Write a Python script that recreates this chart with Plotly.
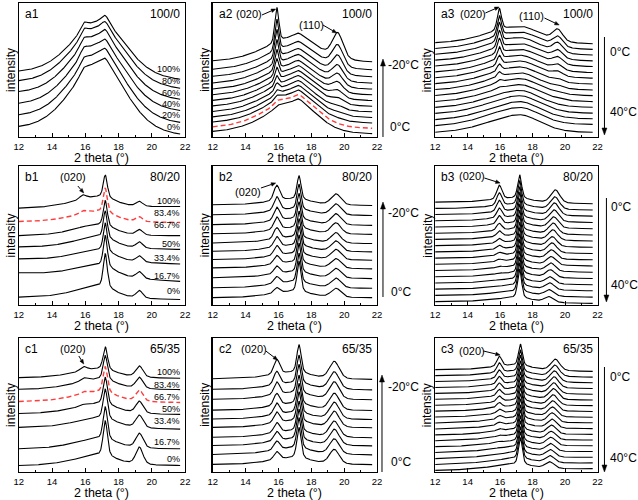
import numpy as np
import plotly.graph_objects as go

# ---------------- data (each list: bottom curve -> top curve) ----------------
# panel a1 (100/0, stretched)
a1_left = [7.9, 16.6, 25.2, 33.9, 42.1, 49.3]
a1_right = [2.2, 10.9, 19.8, 28.2, 36.4, 43.1]
a1_amorph = [54, 52, 50, 48, 45.5, 42.5]
a1_p159 = [4, 4.5, 5, 5, 5.5, 5.5]
a1_p172 = [4, 4.5, 4.5, 5, 5, 5.5]
a1_labels = ["0%", "20%", "40%", "60%", "80%", "100%"]

# panel a2 (100/0, cooling 0 -> -20 C)
a2_left = [4.2, 7.6, 11.2, 15.0, 19.0, 23.2, 27.3, 31.5, 35.8, 40.3, 45.3, 50.6, 56.9]
a2_right = [2.5, 6.5, 10.5, 14.6, 18.8, 23.0, 27.2, 31.5, 35.8, 40.2, 45.0, 50.2, 56.2]
a2_amorph = [24, 23.5, 23, 22.5, 22, 21.5, 21, 20.5, 20, 20, 19.5, 19.5, 19.5]
a2_p020 = [0.5, 1, 2, 3, 5, 7, 9.5, 12, 15, 18, 21, 23.5, 26]
a2_p110 = [0, 0, 0.5, 1, 2, 3.5, 5, 7, 9, 11, 13.5, 16, 19]
a2_p172 = [2.5, 2.5, 2.5, 2.5, 2.5, 2.5, 2.5, 2.5, 2.5, 2.5, 2.5, 2.5, 2.5]
a2_p160 = [2, 2, 1.5, 1, 0.5, 0, 0, 0, 0, 0, 0, 0, 0]

# panel a3 (100/0, heating 0 -> 40 C)
a3_left = [3.5, 8.5, 13.0, 17.6, 22.1, 26.5, 31.0, 35.4, 39.8, 44.2, 48.6, 53.0, 57.4, 61.8, 66.1, 70.4]
a3_right = [3.5, 9.4, 13.6, 17.8, 22.2, 26.4, 30.9, 35.1, 39.5, 43.9, 48.1, 52.6, 56.8, 61.2, 65.4, 69.6]
a3_amorph = [14, 14, 14, 14, 13.5, 13.5, 13.5, 13.5, 13.5, 13.5, 13.5, 13.5, 13.5, 13.5, 13.5, 13.5]
a3_p020 = [0, 0, 0, 0, 0.5, 1, 2, 3.5, 5, 7, 9, 11, 12.5, 14, 15, 16]
a3_p110 = [0, 0, 0, 0, 0, 0.5, 1, 1.5, 2, 3, 4, 5, 6, 7, 7.5, 8.5]

# panel b1 (80/20, stretched)
b1_left = [5.7, 23.2, 33.2, 41.8, 49.9, 60.1, 69.7]
b1_right = [4.0, 17.0, 29.5, 40.0, 49.9, 59.4, 70.9]
b1_amorph = [9, 9, 8.5, 8.5, 8, 8, 8]
b1_p172 = [24, 22, 20, 19, 18, 17, 16]
b1_p193 = [5.5, 5, 4.5, 4.5, 4, 3.5, 3.5]
b1_p020 = [0, 0, 0, 0, 0.5, 2, 3]
b1_labels = ["0%", "16.7%", "33.4%", "50%", "66.7%", "83.4%", "100%"]

# panel b2 (80/20, cooling)
b2_left = [5.3, 12.4, 19.6, 26.7, 32.7, 38.7, 44.6, 51.3, 57.8, 64.9, 72.1]
b2_right = [5.3, 12.0, 19.0, 26.0, 32.2, 38.2, 44.2, 50.8, 57.3, 64.4, 71.6]
b2_amorph = [4.5, 4.5, 4.5, 4.5, 4.5, 4.5, 4.5, 4.5, 4.5, 4.5, 4.5]
b2_p020 = [4, 5, 5.5, 6, 7, 7.5, 8, 9, 9.5, 10, 11]
b2_p172 = [22, 21, 21, 20, 20, 19.5, 19, 19, 18.5, 18, 17]
b2_p110 = [6.5, 7, 7, 7, 7.5, 7.5, 7.5, 8, 8, 8, 8]

# panel b3 (80/20, heating)
b3_left = [2.4, 6.9, 11.4, 15.8, 20.3, 24.8, 29.3, 33.7, 38.2, 42.7, 47.2, 51.6, 56.1, 60.6, 65.1, 69.5, 74.0]
b3_right = [1.2, 5.7, 10.2, 14.6, 19.1, 23.6, 28.1, 32.5, 37.0, 41.5, 46.0, 50.4, 54.9, 59.4, 63.9, 68.3, 72.8]
b3_amorph = [3.5] * 17
b3_p020 = [0, 0, 0, 0.3, 0.6, 1, 1.5, 2, 2.5, 3, 4, 5, 6, 7, 8, 9, 10]
b3_p172 = [21, 21, 20.5, 20.5, 20, 20, 19.5, 19.5, 19, 19, 18.5, 18.5, 18, 18, 17.5, 17.5, 17]
b3_pos110 = [19.0, 19.02, 19.05, 19.07, 19.1, 19.12, 19.15, 19.17, 19.2, 19.22, 19.25, 19.27, 19.3, 19.32, 19.35, 19.37, 19.4]
b3_p110 = [4, 4.5, 5, 5, 5.5, 6, 6, 6.5, 7, 7, 7.5, 8, 8, 8.5, 9, 9, 9.5]

# panel c1 (65/35, stretched)
c1_left = [4.9, 17.3, 33.3, 43.7, 52.6, 61.7, 70.4]
c1_right = [4.9, 17.3, 32.0, 43.0, 51.9, 61.5, 70.0]
c1_amorph = [8, 8, 8, 8, 8, 8, 7]
c1_p172 = [26, 24, 22, 20, 19, 18, 17]
c1_p192 = [13, 11, 9.5, 9, 8.5, 8.5, 8.5]
c1_p020 = [0, 0, 0.5, 1, 1.5, 2.5, 3]
c1_labels = ["0%", "16.7%", "33.4%", "50%", "66.7%", "83.4%", "100%"]

# panel c2 (65/35, cooling)
c2_left = [5.7, 13.1, 19.8, 25.9, 33.3, 39.5, 46.2, 54.3, 61.7, 69.6]
c2_right = [5.5, 12.8, 19.5, 25.6, 33.0, 39.2, 45.9, 53.9, 61.3, 69.1]
c2_amorph = [5, 5, 5, 5, 5, 5, 5, 5, 5, 5]
c2_p020 = [6, 6.5, 7, 7.5, 8, 8.5, 9, 9.5, 10, 11]
c2_p172 = [23, 23, 22.5, 22.5, 22, 22, 21.5, 21.5, 21, 21]
c2_p110 = [11, 11.5, 12, 12, 12, 12.5, 12.5, 13, 13, 13]

# panel c3 (65/35, heating)
c3_left = [1.2, 5.6, 10.0, 14.5, 18.9, 23.3, 27.7, 32.1, 36.6, 41.0, 45.4, 49.8, 54.3, 58.7, 63.1, 67.5, 71.9, 76.4]
c3_right = [2.5, 6.8, 11.0, 15.3, 19.6, 23.9, 28.1, 32.4, 36.7, 40.9, 45.2, 49.5, 53.7, 58.0, 62.3, 66.6, 70.8, 75.1]
c3_amorph = [4] * 18
c3_p020 = [0, 0, 0, 0.3, 0.6, 1, 1.5, 2, 2.5, 3, 3.5, 4, 4.5, 5, 5.5, 6, 7, 7.5]
c3_p172 = [20, 20, 19.5, 19.5, 19, 19, 18.5, 18.5, 18, 18, 17.5, 17.5, 17, 17, 16.5, 16.5, 16, 16]
c3_pos110 = [19.05, 19.07, 19.09, 19.11, 19.13, 19.15, 19.17, 19.19, 19.21, 19.23, 19.25, 19.27, 19.29, 19.31, 19.33, 19.35, 19.37, 19.4]
c3_p110 = [5, 5.2, 5.5, 5.7, 6, 6.2, 6.5, 6.7, 7, 7.2, 7.5, 7.7, 8, 8, 8.2, 8.3, 8.4, 8.5]

# ---------------- model of each diffraction trace ----------------
X = np.linspace(12.0, 21.7, 500)


def pv(x, c, wl, wr, eta):
    d = np.asarray(x, dtype=float) - c
    w = np.where(d < 0, wl, wr)
    g = np.exp(-0.5 * (d / w) ** 2)
    lo = 1.0 / (1.0 + (d / (1.1774 * w)) ** 2)
    return (1 - eta) * g + eta * lo


def trace_y(i, left, right, comps):
    f = np.zeros_like(X)
    f0 = 0.0
    f1 = 0.0
    for amps, c, wl, wr, eta in comps:
        a = amps[i]
        cc = c[i] if isinstance(c, list) else c
        f += a * pv(X, cc, wl, wr, eta)
        f0 += a * float(pv(12.0, cc, wl, wr, eta))
        f1 += a * float(pv(21.7, cc, wl, wr, eta))
    t = (X - 12.0) / 9.7
    return left[i] + (right[i] - left[i]) * t + f - (f0 + (f1 - f0) * t)


panels = [
    dict(left=a1_left, right=a1_right, red=None,
         comps=[(a1_amorph, 16.9, 1.75, 1.55, 0.35), (a1_p159, 15.9, 0.22, 0.22, 0.3), (a1_p172, 17.2, 0.2, 0.2, 0.3)]),
    dict(left=a2_left, right=a2_right, red=1,
         comps=[(a2_amorph, 17.15, 1.9, 1.25, 0.4), (a2_p020, 15.9, 0.12, 0.12, 0.3), (a2_p110, 19.6, 0.33, 0.33, 0.3),
                (a2_p172, 17.2, 0.25, 0.25, 0.3), (a2_p160, 16.0, 0.3, 0.3, 0.3)]),
    dict(left=a3_left, right=a3_right, red=None,
         comps=[(a3_amorph, 17.2, 2.0, 1.3, 0.4), (a3_p020, 15.95, 0.13, 0.13, 0.3), (a3_p110, 19.55, 0.3, 0.3, 0.3)]),
    dict(left=b1_left, right=b1_right, red=5,
         comps=[(b1_amorph, 16.9, 1.6, 0.9, 0.4), (b1_p172, 17.2, 0.12, 0.12, 0.4), (b1_p193, 19.25, 0.2, 0.2, 0.4),
                (b1_p020, 15.85, 0.2, 0.2, 0.3)]),
    dict(left=b2_left, right=b2_right, red=None,
         comps=[(b2_amorph, 17.0, 1.5, 1.0, 0.4), (b2_p020, 15.9, 0.18, 0.18, 0.3), (b2_p172, 17.25, 0.12, 0.12, 0.4),
                (b2_p110, 19.5, 0.3, 0.3, 0.3)]),
    dict(left=b3_left, right=b3_right, red=None,
         comps=[(b3_amorph, 17.0, 1.6, 1.0, 0.4), (b3_p020, 15.95, 0.16, 0.16, 0.3), (b3_p172, 17.2, 0.12, 0.12, 0.4),
                (b3_p110, b3_pos110, 0.28, 0.28, 0.3)]),
    dict(left=c1_left, right=c1_right, red=4,
         comps=[(c1_amorph, 16.9, 1.6, 1.0, 0.4), (c1_p172, 17.2, 0.13, 0.13, 0.4), (c1_p192, 19.25, 0.22, 0.22, 0.4),
                (c1_p020, 15.9, 0.2, 0.2, 0.3)]),
    dict(left=c2_left, right=c2_right, red=None,
         comps=[(c2_amorph, 17.0, 1.5, 1.0, 0.4), (c2_p020, 15.9, 0.18, 0.18, 0.3), (c2_p172, 17.25, 0.13, 0.13, 0.4),
                (c2_p110, 19.4, 0.3, 0.3, 0.3)]),
    dict(left=c3_left, right=c3_right, red=None,
         comps=[(c3_amorph, 17.0, 1.6, 1.0, 0.4), (c3_p020, 15.95, 0.15, 0.15, 0.3), (c3_p172, 17.25, 0.12, 0.12, 0.4),
                (c3_p110, c3_pos110, 0.28, 0.28, 0.3)]),
]

# ---------------- layout ----------------
W, H = 638, 500
FONT = "Liberation Sans, Arial, sans-serif"
COLS = [(14, 183), (211, 378), (437, 602)]
ROWS = [(3, 137), (166, 305), (338, 472)]

fig = go.Figure()
layout = dict(width=W, height=H, margin=dict(l=0, r=0, t=0, b=0),
              paper_bgcolor="white", plot_bgcolor="white", showlegend=False,
              font=dict(family=FONT, color="black"))

for k, p in enumerate(panels):
    r, c = divmod(k, 3)
    n = k + 1
    xa = "x" if n == 1 else f"x{n}"
    ya = "y" if n == 1 else f"y{n}"
    for i in range(len(p["left"])):
        y = trace_y(i, p["left"], p["right"], p["comps"])
        if p["red"] == i:
            line = dict(color="#ff3b3b", width=1.4, dash="5px,3px")
        else:
            line = dict(color="black", width=1.1)
        fig.add_trace(go.Scatter(x=X, y=y, mode="lines", line=line, xaxis=xa, yaxis=ya,
                                 hoverinfo="skip"))
    x0, x1 = COLS[c]
    y0, y1 = ROWS[r]
    layout["xaxis" if n == 1 else f"xaxis{n}"] = dict(
        domain=[x0 / W, x1 / W], range=[12, 22], anchor=ya,
        showline=True, mirror=True, linecolor="black", linewidth=1.2,
        ticks="inside", ticklen=4, tickwidth=1, tickcolor="black", dtick=2, tick0=12,
        minor=dict(ticks="inside", ticklen=2, dtick=1, tickcolor="black"),
        showgrid=False, zeroline=False, tickfont=dict(size=9.5, family=FONT))
    layout["yaxis" if n == 1 else f"yaxis{n}"] = dict(
        domain=[1 - y1 / H, 1 - y0 / H], range=[0, 100], anchor=xa,
        showline=True, mirror=True, linecolor="black", linewidth=1.2,
        ticks="", showticklabels=False, showgrid=False, zeroline=False)

ann = []
shapes = []


def txt(x, y, s, size=11, xanchor="center", angle=0):
    ann.append(dict(x=x / W, y=1 - y / H, xref="paper", yref="paper", text=s, showarrow=False,
                    xanchor=xanchor, yanchor="middle", textangle=angle,
                    font=dict(size=size, family=FONT, color="black")))


def arrow(tx, ty, hx, hy, hl=4.5, hw=1.8):
    dx, dy = hx - tx, hy - ty
    L = float(np.hypot(dx, dy))
    ux, uy = dx / L, dy / L
    bx, by = hx - ux * hl, hy - uy * hl
    P = lambda a, b: f"{a / W:.5f},{1 - b / H:.5f}"
    shapes.append(dict(type="line", xref="paper", yref="paper", x0=tx / W, y0=1 - ty / H,
                       x1=bx / W, y1=1 - by / H, line=dict(color="black", width=1)))
    path = (f"M {P(hx, hy)} L {P(bx - uy * hw, by + ux * hw)} L {P(bx + uy * hw, by - ux * hw)} Z")
    shapes.append(dict(type="path", xref="paper", yref="paper", path=path,
                       fillcolor="black", line=dict(color="black", width=0.5)))


names = ["a1", "a2", "a3", "b1", "b2", "b3", "c1", "c2", "c3"]
ratios = ["100/0", "100/0", "100/0", "80/20", "80/20", "80/20", "65/35", "65/35", "65/35"]
for k in range(9):
    r, c = divmod(k, 3)
    x0, x1 = COLS[c]
    y0, y1 = ROWS[r]
    txt(x0 + 4, y0 + 11, names[k], 12, "left")
    txt(x1 - 3, y0 + 11, ratios[k], 12, "right")
    txt((x0 + x1) / 2, y1 + 21, "2 theta (°)", 12.5)
    txt(x0 - 8, (y0 + y1) / 2, "intensity", 12, "center", -90)

# percentage labels
for lab, yy in zip(a1_labels, [126.5, 115.5, 104.5, 93, 81, 68.5]):
    txt(180, yy, lab, 9, "right")
for lab, yy in zip(b1_labels, [291, 276, 258, 244, 225, 213, 201]):
    txt(180, yy, lab, 9, "right")
for lab, yy in zip(c1_labels, [459, 442, 421, 408.5, 396.5, 384.5, 371.5]):
    txt(180, yy, lab, 9, "right")

# reflection labels
txt(248, 14, "(020)", 11); arrow(261, 15, 275, 9)
txt(311, 25, "(110)", 11); arrow(323, 25, 337, 33)
txt(475, 14, "(020)", 11); arrow(488, 13, 502, 7)
txt(535, 16, "(110)", 11); arrow(548, 18, 563, 25)
txt(69, 177, "(020)", 11); arrow(74, 186, 80, 193)
txt(247, 192, "(020)", 11); arrow(260, 188, 275, 183)
txt(474, 176, "(020)", 11); arrow(487, 178, 503, 183)
txt(69, 349, "(020)", 11); arrow(75, 356, 80, 364)
txt(253, 349, "(020)", 11); arrow(265, 351, 277, 360)
txt(474, 351, "(020)", 11); arrow(486, 351, 503, 355)

# temperature arrows
arrow(384, 137, 384, 59, 7, 2.5)
txt(387, 65, "-20°C", 12, "left"); txt(389, 127, "0°C", 12, "left")
arrow(609, 37, 609, 135, 7, 2.5)
txt(613, 52, "0°C", 12, "left"); txt(613, 112, "40°C", 12, "left")
arrow(384, 297, 384, 202, 7, 2.5)
txt(387, 213, "-20°C", 12, "left"); txt(390, 292, "0°C", 12, "left")
arrow(611, 198, 611, 302, 7, 2.5)
txt(614, 207, "0°C", 12, "left"); txt(614, 285, "40°C", 12, "left")
arrow(383, 472, 383, 375, 7, 2.5)
txt(387, 387, "-20°C", 12, "left"); txt(390, 462, "0°C", 12, "left")
arrow(609, 367, 609, 472, 7, 2.5)
txt(613, 377, "0°C", 12, "left"); txt(613, 458, "40°C", 12, "left")

layout["annotations"] = ann
layout["shapes"] = shapes
fig.update_layout(**layout)
fig.write_html("out.html", config={"displayModeBar": False, "staticPlot": True},
               post_script="document.body.style.margin='0';document.body.style.padding='0';"
                           "document.body.style.overflow='hidden';")
